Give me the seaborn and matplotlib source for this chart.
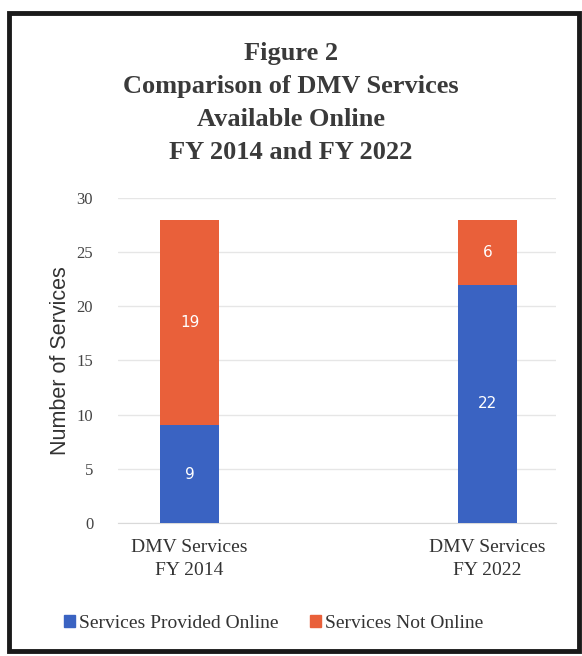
import matplotlib.pyplot as plt
import matplotlib.patches as mpatches
import seaborn as sns
import pandas as pd

# chart values
categories = ["DMV Services\nFY 2014", "DMV Services\nFY 2022"]
online = [9, 22]
not_online = [19, 6]
series_names = ["Services Provided Online", "Services Not Online"]
yticks = [0, 5, 10, 15, 20, 25, 30]

blue = "#3a63c2"
orange = "#e9603a"

df = pd.DataFrame({"cat": categories, "online": online, "not_online": not_online})
df["total"] = df["online"] + df["not_online"]

sns.set_style("white")
plt.rcParams["font.family"] = ["Liberation Serif", "DejaVu Serif"]

fig = plt.figure(figsize=(5.82, 6.56), dpi=100)
ax = fig.add_axes([0.203, 0.203, 0.752, 0.495])

# stacked bars: full height in orange, online part in blue on top of it
sns.barplot(data=df, x="cat", y="total", color=orange, width=0.2,
            saturation=1, linewidth=0, ax=ax, zorder=2)
sns.barplot(data=df, x="cat", y="online", color=blue, width=0.2,
            saturation=1, linewidth=0, ax=ax, zorder=3)

for i, row in df.iterrows():
    ax.text(i, row["online"] / 2, str(row["online"]), ha="center", va="center",
            color="white", fontsize=11, family="DejaVu Sans", zorder=4)
    ax.text(i, row["online"] + row["not_online"] / 2, str(row["not_online"]),
            ha="center", va="center", color="white", fontsize=11,
            family="DejaVu Sans", zorder=4)

ax.set_ylim(0, 30)
ax.set_xlim(-0.24, 1.23)
ax.set_yticks(yticks)
ax.set_yticklabels([str(t) for t in yticks], fontsize=12, color="#444444")
ax.tick_params(axis="y", length=0, pad=18)
ax.tick_params(axis="x", length=0, pad=12, labelsize=14, labelcolor="#333333")
for lab in ax.get_xticklabels():
    lab.set_linespacing(1.45)
ax.yaxis.grid(True, color="#e6e6e6", linewidth=1)
ax.set_axisbelow(True)
for s in ["top", "right", "left"]:
    ax.spines[s].set_visible(False)
ax.spines["bottom"].set_color("#d9d9d9")
ax.set_xlabel("")
ax.set_ylabel("Number of Services", fontsize=15.5, family="Liberation Sans",
              color="#333333", labelpad=4)

fig.text(0.5, 0.843, "Figure 2\nComparison of DMV Services\nAvailable Online\nFY 2014 and FY 2022",
         ha="center", va="center", fontsize=19, fontweight="bold",
         color="#3a3a3a", linespacing=1.55)

handles = [mpatches.Patch(color=blue, label=series_names[0]),
           mpatches.Patch(color=orange, label=series_names[1])]
fig.legend(handles=handles, loc="center", bbox_to_anchor=(0.47, 0.05), ncol=2,
           frameon=False, fontsize=14, handlelength=0.6, handleheight=0.6,
           handletextpad=0.2, columnspacing=1.6, labelcolor="#333333")

# outer frame
fig.patches.append(mpatches.Rectangle((0.016, 0.008), 0.978, 0.972,
                                      transform=fig.transFigure, fill=False,
                                      edgecolor="#1a1a1a", linewidth=3.5))

fig.savefig("out.png", dpi=100)
